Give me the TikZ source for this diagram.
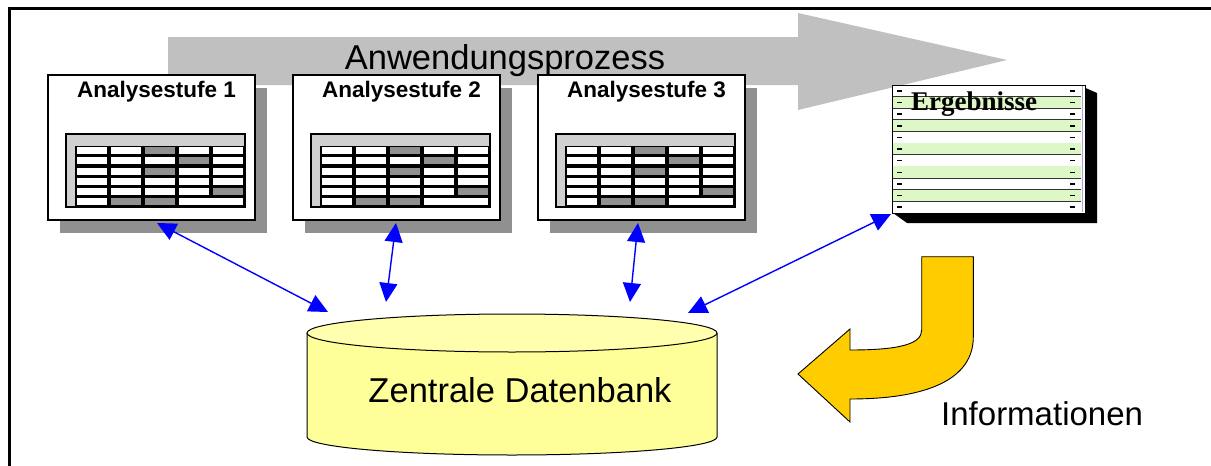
\documentclass[tikz,border=0pt]{standalone}
\usepackage{fontspec}
\setmainfont{Liberation Sans}
\newfontfamily\serifface{Liberation Serif}
\usetikzlibrary{arrows.meta}

\definecolor{procgrey}{HTML}{C0C0C0}
\definecolor{shadowgrey}{HTML}{909090}
\definecolor{framegrey}{HTML}{D0D0D0}
\definecolor{cellgrey}{HTML}{909090}
\definecolor{rowgreen}{HTML}{DEF7C6}
\definecolor{stripblue}{HTML}{A8A8D0}
\definecolor{dbtop}{HTML}{FFFFAE}
\definecolor{dbbody}{HTML}{FFFF99}
\definecolor{infoorange}{HTML}{FFCC00}
\definecolor{linkblue}{HTML}{0000FF}

\tikzset{
  stagebox/.style={draw=black, line width=1.5pt, fill=white, minimum width=207pt,
    minimum height=145pt, inner sep=0pt},
  stagetitle/.style={anchor=base west, inner sep=0pt,
    font=\fontsize{22.5}{26}\selectfont\bfseries},
  bigtext/.style={inner sep=0pt, font=\fontsize{34.5}{40}\selectfont},
  linkarrow/.style={draw=linkblue, line width=1.4pt,
    {Triangle[width=18pt,length=19pt]}-{Triangle[width=18pt,length=19pt]}},
  cellw/.style={fill=white},
  cellg/.style={fill=cellgrey},
}

% one analysis stage: #1 node name, #2 left edge, #3 number
\newcommand\analysisstage[3]{%
  \fill[shadowgrey] (#2+12,88) rectangle (#2+219,233);
  \node[stagebox] (#1) at (#2+103.5,147.5) {};
  \node[stagetitle] at (#2+29,97) {Analysestufe #3};
  % small spreadsheet
  \filldraw[fill=framegrey, draw=black, line width=1.2pt] (#2+18,134) rectangle (#2+197,207);
  \fill[black] (#2+27,145.5) rectangle (#2+197,207);
  \foreach \r in {0,...,4}{
    \foreach \c in {0,...,4}{
      \fill[cellw] ({#2+27+34*\c+1.9},{145.5+10.25*\r+1.7}) rectangle
                   ({#2+27+34*(\c+1)-1.9},{145.5+10.25*(\r+1)-1.7});
    }
  }
  \foreach \c/\r in {2/0,3/1,2/2,4/4,1/5,2/5}{
    \fill[cellg] ({#2+27+34*\c+1.9},{145.5+10.25*\r+1.7}) rectangle
                 ({#2+27+34*(\c+1)-1.9},{145.5+10.25*(\r+1)-1.7});
  }
  \fill[cellw] ({#2+27+1.9},{145.5+10.25*5+1.7}) rectangle ({#2+27+34-1.9},{207-1.7});
  \fill[cellw] ({#2+27+34*3+1.9},{145.5+10.25*5+1.7}) rectangle ({#2+197-1.9},{207-1.7});
}

\begin{document}
\begin{tikzpicture}[x=1pt,y=-1pt]
\useasboundingbox (0,0) rectangle (1211,466);
\fill[white] (0,0) rectangle (1211,466);

% outer frame
\draw[line width=3pt] (9,466) -- (9,8.5) -- (1211,8.5);

% process arrow
\fill[procgrey] (168,37) -- (798,37) -- (798,13) -- (1007,60) -- (798,110)
  -- (798,85) -- (168,85) -- cycle;
\node[bigtext, anchor=base] (proc) at (505,69) {Anwendungsprozess};

% analysis stages
\analysisstage{s1}{48}{1}
\analysisstage{s2}{293}{2}
\analysisstage{s3}{538}{3}

% result list
\fill[black] (1081,86) -- (1097,93) -- (1097,223) -- (907,223) -- (893,213)
  -- (1081,213) -- cycle;
\node[draw=black, line width=1pt, fill=white, minimum width=193pt, minimum height=128pt,
  inner sep=0pt] (erg) at (988.5,149) {};
\foreach \i in {0,...,10}{
  \pgfmathsetmacro\ya{85+11.64*\i}
  \pgfmathsetmacro\yb{85+11.64*(\i+1)}
  \pgfmathtruncatemacro\odd{mod(\i,2)}
  \ifnum\odd=1
    \fill[rowgreen] (892,\ya) rectangle (1081,\yb);
  \fi
  \draw[black!80, line width=0.9pt] (892,\yb) -- (1081,\yb);
  \draw[black, line width=1.6pt] (897,{(\ya+\yb)/2}) -- (902,{(\ya+\yb)/2});
  \draw[black, line width=1.6pt] (1070,{(\ya+\yb)/2}) -- (1075,{(\ya+\yb)/2});
}
\draw[black, line width=1pt] (892,85) rectangle (1085,213);
\draw[stripblue, line width=1pt] (1082.5,86) -- (1082.5,212);
\node[anchor=base west, inner sep=0pt, font=\serifface\bfseries\fontsize{27}{30}\selectfont]
  (ergtext) at (911,110) {Ergebnisse};

% central database
\fill[dbbody] (307,333) rectangle (717,437);
\fill[dbbody] (512,437) ellipse [x radius=205, y radius=18];
\draw[line width=1pt] (307,333) -- (307,437)
  arc[start angle=180, end angle=0, x radius=205, y radius=18] -- (717,333);
\filldraw[fill=dbtop, draw=black, line width=1pt] (512,333) ellipse [x radius=205, y radius=19];
\node[bigtext, anchor=base] (db) at (520,402) {Zentrale Datenbank};

% links between stages, results and database
\coordinate (l1a) at (157,223);
\coordinate (l1b) at (328,312);
\coordinate (l2a) at (396,223);
\coordinate (l2b) at (386,302);
\coordinate (l3a) at (638,223);
\coordinate (l3b) at (630,302);
\coordinate (l4a) at (688,313);
\coordinate (l4b) at (891,214);
\draw[linkarrow] (l1a) -- (l1b);
\draw[linkarrow] (l2a) -- (l2b);
\draw[linkarrow] (l3a) -- (l3b);
\draw[linkarrow] (l4b) -- (l4a);

% information feedback arrow
\filldraw[fill=infoorange, draw=black, line width=0.9pt]
  (921.7,256.7) -- (973.3,256.7) -- (973.3,337)
  .. controls (973.3,378) and (930,399) .. (850,399)
  -- (850,422) -- (798,374) -- (850,329) -- (850,350)
  .. controls (900,350) and (921.7,344) .. (921.7,330) -- cycle;
\node[bigtext, font=\fontsize{33}{38}\selectfont, anchor=base west] (info) at (941,425) {Informationen};
\end{tikzpicture}
\end{document}
